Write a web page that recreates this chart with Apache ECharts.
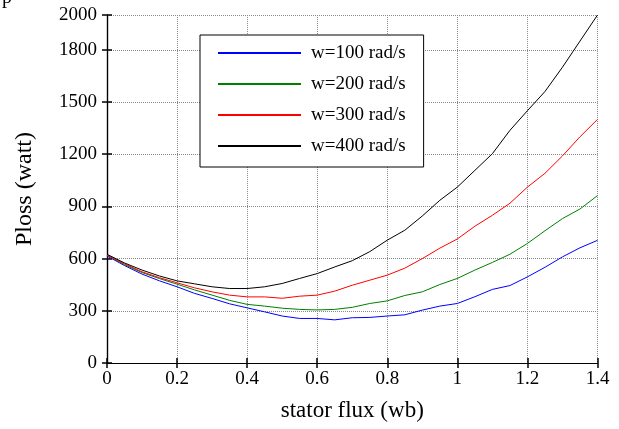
<!DOCTYPE html>
<html>
<head>
<meta charset="utf-8">
<script src="https://cdn.jsdelivr.net/npm/echarts@6/dist/echarts.min.js"></script>
<style>html,body{margin:0;padding:0;background:#fff;}#c{width:619px;height:429px;}</style>
</head>
<body>
<div id="c"></div>
<script>
var fluxValues = [0,0.05,0.1,0.15,0.2,0.25,0.3,0.35,0.4,0.45,0.5,0.55,0.6,0.65,0.7,0.75,0.8,0.85,0.9,0.95,1.0,1.05,1.1,1.15,1.2,1.25,1.3,1.35,1.4];
var lossW100 = [615,560,511,472,438,400,371,340,317,294,270,256,256,248,260,262,270,277,304,327,342,381,423,445,495,550,610,662,705];
var lossW200 = [620,565,520,485,453,420,390,360,337,327,315,308,305,308,320,342,357,388,409,451,486,534,578,625,687,760,830,885,962];
var lossW300 = [620,570,524,490,461,432,409,390,380,380,372,384,390,413,447,476,505,545,600,660,713,786,849,918,1011,1090,1190,1300,1400];
var lossW400 = [625,575,534,500,472,455,438,428,428,438,457,486,514,552,588,640,706,763,845,935,1011,1107,1203,1337,1450,1560,1700,1850,2000];
var seriesNames = ['w=100 rad/s','w=200 rad/s','w=300 rad/s','w=400 rad/s'];
var seriesColors = ['#0000ff','#008000','#ff0000','#000000'];
var xTitle = 'stator flux (wb)';
var yTitle = 'Ploss (watt)';

function pairs(ys){ return fluxValues.map(function(x,i){ return [x, ys[i]]; }); }
var allLoss = [lossW100, lossW200, lossW300, lossW400];
var font = 'Liberation Serif, Times New Roman, serif';

var chart = echarts.init(document.getElementById('c'), null, {renderer:'canvas'});
var tickStyle = {inside:true, length:5, lineStyle:{color:'#000', width:1.5}};
var axisLine = {show:true, lineStyle:{color:'#000', width:1.2}};
var split = {show:true, lineStyle:{color:'#8a8a8a', type:'dotted', width:1}};
chart.setOption({
  animation:false,
  backgroundColor:'#fff',
  grid:{left:107, right:21.5, top:15, bottom:66, containLabel:false},
  xAxis:[{
    type:'value', min:0, max:1.4, interval:0.2, position:'bottom',
    axisLine:axisLine, axisTick:tickStyle, splitLine:split,
    axisLabel:{color:'#000', fontFamily:font, fontSize:19, margin:7,
      formatter:function(v){ return String(Math.round(v*10)/10); }},
    name:xTitle, nameLocation:'middle', nameGap:36,
    nameTextStyle:{color:'#000', fontFamily:font, fontSize:23}
  },{
    type:'value', min:0, max:1.4, interval:0.2, position:'top',
    axisLine:axisLine, axisTick:tickStyle, splitLine:{show:false}, axisLabel:{show:false}
  }],
  yAxis:[{
    type:'value', min:0, max:2000, interval:300, position:'left',
    axisLine:axisLine, axisTick:tickStyle, splitLine:split,
    axisLabel:{color:'#000', fontFamily:font, fontSize:19, margin:10,
      formatter:function(v){ return String(Math.round(v)); }},
    name:yTitle, nameLocation:'middle', nameGap:70, nameRotate:90,
    nameTextStyle:{color:'#000', fontFamily:font, fontSize:24}
  },{
    type:'value', min:0, max:2000, interval:300, position:'right',
    axisLine:axisLine, axisTick:tickStyle, splitLine:{show:false}, axisLabel:{show:false}
  }],
  legend:{
    orient:'vertical', left:200, top:35,
    padding:[8,18,11,17], itemWidth:83, itemHeight:14, itemGap:11,
    borderColor:'#000', borderWidth:1, backgroundColor:'#fff',
    itemStyle:{opacity:0},
    textStyle:{color:'#000', fontFamily:font, fontSize:19, lineHeight:20, padding:[0,0,0,5]},
    data:seriesNames
  },
  graphic:[{type:'text', left:2, top:-12, style:{text:'p', font:'20px '+font, fill:'#000'}}],
  series: allLoss.map(function(ys,i){
    return {
      name:seriesNames[i], type:'line', data:pairs(ys), symbol:'none', showSymbol:false,
      lineStyle:{color:seriesColors[i], width:1}, itemStyle:{color:seriesColors[i]},
      xAxisIndex:0, yAxisIndex:0, clip:true
    };
  })
});
</script>
</body>
</html>
